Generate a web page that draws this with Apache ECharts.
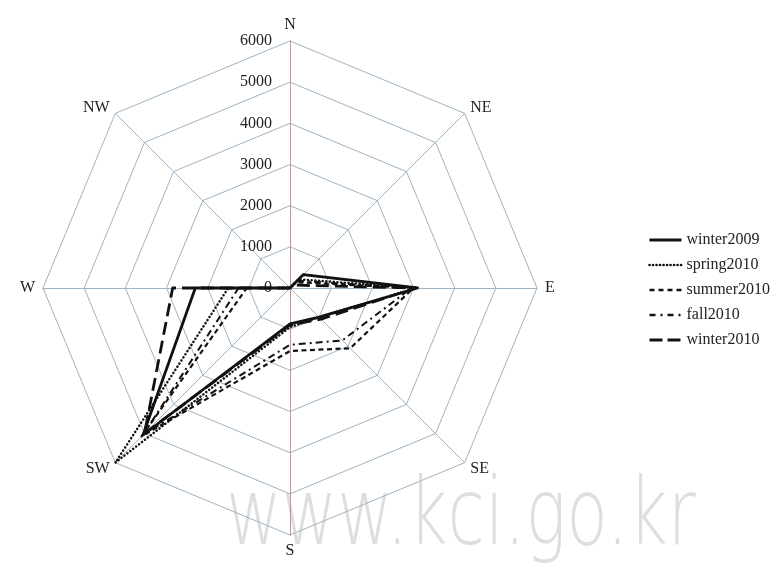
<!DOCTYPE html>
<html>
<head>
<meta charset="utf-8">
<script src="https://cdn.jsdelivr.net/npm/echarts@6/dist/echarts.min.js"></script>
<style>
html,body{margin:0;padding:0;background:#fff;}
#chart{width:771px;height:565px;}
</style>
</head>
<body>
<div id="chart"></div>
<script>
// Directions (clockwise from North, as in the reference)
const categories = ['N', 'NE', 'E', 'SE', 'S', 'SW', 'W', 'NW'];
// Radial tick labels
const tickLabels = [0, 1000, 2000, 3000, 4000, 5000, 6000];
// Series values, order: N, NE, E, SE, S, SW, W, NW
const winter2009 = [0, 460, 3100, 1000, 870, 5050, 2300, 0];
const spring2010 = [0, 300, 3080, 1000, 950, 6000, 1500, 0];
const summer2010 = [0, 200, 3000, 2070, 1530, 5100, 1050, 0];
const fall2010   = [0, 250, 2950, 1800, 1380, 5050, 1250, 0];
const winter2010 = [0, 100, 3050, 1070, 900, 5000, 2850, 0];
const seriesNames = ['winter2009', 'spring2010', 'summer2010', 'fall2010', 'winter2010'];
const seriesValues = [winter2009, spring2010, summer2010, fall2010, winter2010];

const styles = [
  {type: 'solid', width: 2.8},
  {type: [0.1, 3.6], width: 2.5, cap: 'round'},
  {type: [5, 3.5], width: 2.2},
  {type: [7, 4, 2, 4], width: 2},
  {type: [13, 6], width: 2.8}
];
const legendStyles = [
  {type: 'solid', width: 3},
  {type: [0.1, 3.4], width: 2.6, cap: 'round'},
  {type: [5, 4], width: 2.6},
  {type: [6, 5, 2, 5], width: 2.4},
  {type: [13, 5], width: 3}
];

// ECharts radar indicators run counter-clockwise; reorder to keep compass order clockwise
const order = [0, 7, 6, 5, 4, 3, 2, 1];
const reorder = arr => order.map(i => arr[i]);

const vMin = tickLabels[0];
const vMax = tickLabels[tickLabels.length - 1];
const vStep = tickLabels[1] - tickLabels[0];

const FONT = 'Liberation Serif';
const CENTER = [290, 288];
const RADIUS = 247;

const chart = echarts.init(document.getElementById('chart'), null, {renderer: 'canvas'});

const series = [];
// legend-only line series (carry the line-style icons)
seriesNames.forEach((n, i) => {
  series.push({
    type: 'line', name: n, data: [], symbol: 'none',
    xAxisIndex: 0, yAxisIndex: 0,
    itemStyle: {color: '#111'},
    lineStyle: Object.assign({color: '#111'}, legendStyles[i])
  });
});
seriesNames.forEach((n, i) => {
  series.push({
    type: 'radar', name: n, radarIndex: 0, symbol: 'none', silent: true,
    z: 3,
    itemStyle: {color: '#111'},
    lineStyle: Object.assign({color: '#111'}, styles[i]),
    data: [{name: n, value: reorder(seriesValues[i])}]
  });
});

const option = {
  backgroundColor: '#ffffff',
  animation: false,
  color: ['#111'],
  graphic: [{
    type: 'text', left: 226, top: 474, silent: true, z: 0,
    scaleY: 1.35,
    style: {text: 'www.kci.go.kr', font: '200 68px "DejaVu Sans"', fill: '#dedede'}
  }],
  grid: {show: false, left: 0, top: 0, width: 1, height: 1},
  xAxis: {type: 'category', show: false, data: []},
  yAxis: {type: 'value', show: false},
  legend: {
    data: seriesNames.map((n, i) => ({name: n, lineStyle: Object.assign({color: '#111'}, legendStyles[i])})),
    orient: 'vertical',
    left: 648, top: 232,
    itemWidth: 32, itemHeight: 14, itemGap: 9,
    padding: 0,
    itemStyle: {opacity: 0},
    textStyle: {fontFamily: FONT, fontSize: 16, color: '#222'},
    selectedMode: false
  },
  radar: [
    {
      center: CENTER, radius: RADIUS, startAngle: 90,
      splitNumber: tickLabels.length - 1,
      shape: 'polygon',
      indicator: reorder(categories).map(c => ({name: c, min: vMin, max: vMax})),
      axisName: {color: '#222', fontFamily: FONT, fontSize: 16},
      nameGap: 8,
      splitArea: {show: false},
      splitLine: {lineStyle: {color: '#9fb3c2', width: 1}},
      axisLine: {lineStyle: {color: '#9fb3c2', width: 1}},
      axisTick: {show: false},
      axisLabel: {show: false}
    },
    {
      center: CENTER, radius: RADIUS, startAngle: 90,
      splitNumber: tickLabels.length - 1,
      shape: 'polygon',
      indicator: [{name: '', min: vMin, max: vMax}, {name: '', min: vMin, max: vMax}],
      axisName: {show: false},
      splitArea: {show: false},
      splitLine: {show: false},
      axisLine: {lineStyle: {color: '#b79c9e', width: 1}},
      axisTick: {show: false},
      axisLabel: {show: false}
    }
  ],
  polar: {center: CENTER, radius: RADIUS},
  angleAxis: {type: 'value', min: 0, max: 360, startAngle: 90, show: false},
  radiusAxis: {
    type: 'value', min: vMin, max: vMax, interval: vStep,
    axisLine: {show: false}, axisTick: {show: false}, splitLine: {show: false},
    axisLabel: {show: true, fontFamily: FONT, fontSize: 16, color: '#222', margin: 18,
      formatter: v => String(v)}
  },
  series: series
};
chart.setOption(option);
</script>
</body>
</html>
